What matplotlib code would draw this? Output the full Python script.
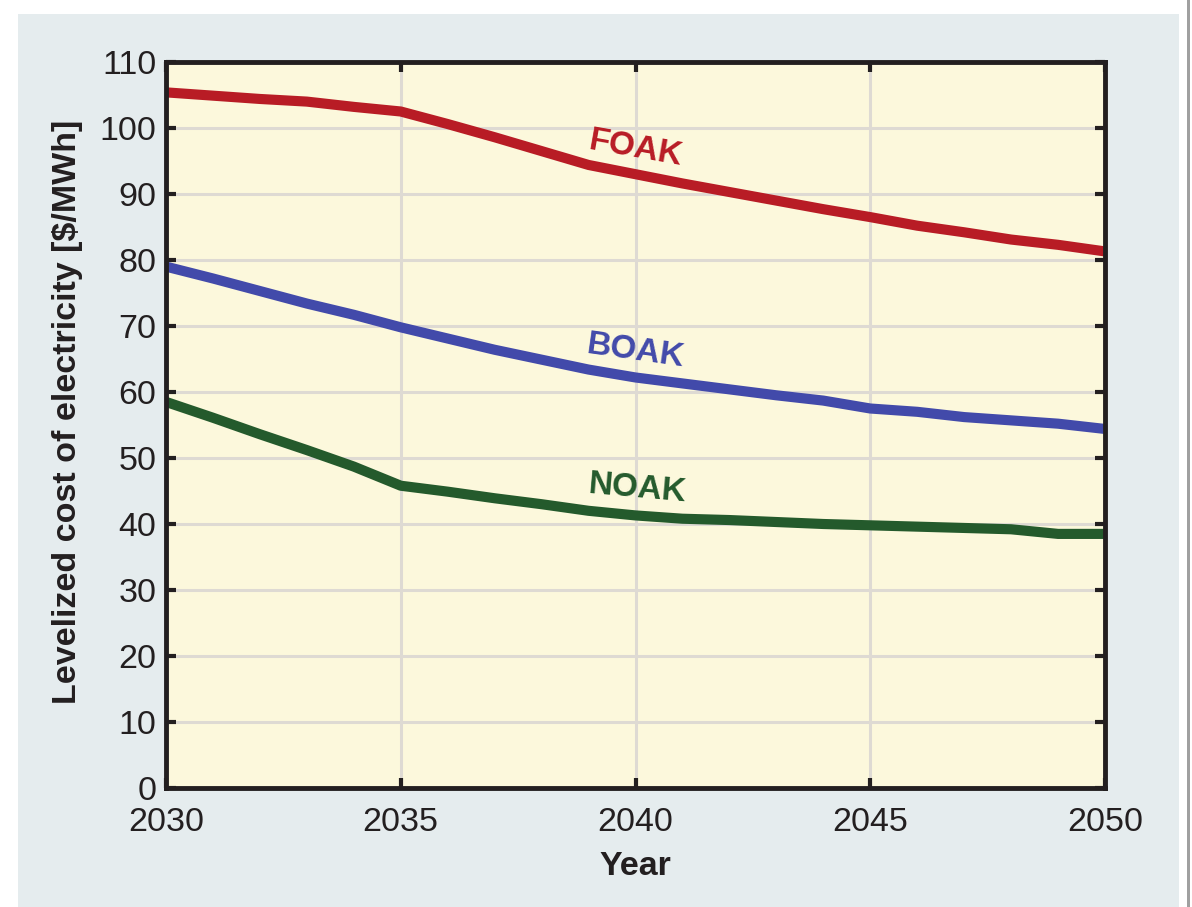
import numpy as np
import matplotlib.pyplot as plt
from matplotlib.patches import Rectangle

# data
years = np.arange(2030, 2051)
foak = [105.4, 104.9, 104.4, 104.0, 103.2, 102.5, 100.6, 98.6, 96.5, 94.4, 93.0,
        91.6, 90.3, 89.0, 87.7, 86.5, 85.2, 84.2, 83.1, 82.3, 81.3]
boak = [79.0, 77.2, 75.3, 73.4, 71.7, 69.8, 68.1, 66.4, 64.9, 63.4, 62.2,
        61.3, 60.4, 59.5, 58.7, 57.5, 57.0, 56.2, 55.7, 55.2, 54.4]
noak = [58.5, 56.1, 53.6, 51.2, 48.7, 45.8, 44.9, 43.9, 43.0, 42.0, 41.3,
        40.8, 40.6, 40.3, 40.0, 39.8, 39.6, 39.4, 39.2, 38.5, 38.5]
xticks = [2030, 2035, 2040, 2045, 2050]
yticks = list(range(0, 111, 10))

plt.rcParams['font.family'] = ['Liberation Sans', 'DejaVu Sans']

fig = plt.figure(figsize=(11.92, 9.07), dpi=100, facecolor='white')
# light panel behind the chart
fig.add_artist(Rectangle((18/1192, 0), (1179-18)/1192, 1-14/907,
                         transform=fig.transFigure, facecolor='#e5ecee',
                         edgecolor='none', zorder=-2))
fig.add_artist(Rectangle((1187/1192, 0), 3/1192, 1,
                         transform=fig.transFigure, facecolor='#a0a0a0',
                         edgecolor='none', zorder=-2))

ax = fig.add_axes([166/1192, 1-788/907, (1105-166)/1192, (788-62)/907])
ax.set_zorder(1)
ax.set_facecolor('#fcf8dc')

ax.plot(years, foak, color='#b81c25', lw=7.3, solid_capstyle='butt', zorder=3)
ax.plot(years, boak, color='#424aaa', lw=7.3, solid_capstyle='butt', zorder=3)
ax.plot(years, noak, color='#245a2c', lw=7.3, solid_capstyle='butt', zorder=3)

ax.text(2040.0, 96.9, 'FOAK', color='#b81c25', fontsize=24, fontweight='bold',
        ha='center', va='center', rotation=-10, zorder=4)
ax.text(2040.0, 66.2, 'BOAK', color='#424aaa', fontsize=24, fontweight='bold',
        ha='center', va='center', rotation=-8, zorder=4)
ax.text(2040.05, 45.4, 'NOAK', color='#245a2c', fontsize=24, fontweight='bold',
        ha='center', va='center', rotation=-5, zorder=4)

ax.set_xlim(2030, 2050)
ax.set_ylim(0, 110)
ax.set_xticks(xticks)
ax.set_yticks(yticks)
ax.grid(True, color='#dedad3', lw=2.2, zorder=1)
ax.set_axisbelow(True)

for s in ax.spines.values():
    s.set_linewidth(3.5)
    s.set_color('#231f20')
    s.set_zorder(5)
ax.tick_params(direction='in', length=7, width=3, color='#231f20',
               top=True, right=True, labelsize=24.5, labelcolor='#231f20', pad=7)
ax.tick_params(axis='x', pad=14)

ax.set_xlabel('Year', fontsize=24.5, fontweight='bold', color='#231f20', labelpad=9)
ax.set_ylabel('Levelized cost of electricity [$/MWh]', fontsize=24.5,
              fontweight='bold', color='#231f20')
ax.yaxis.set_label_coords(-0.088, 0.518)

fig.savefig('out.png', dpi=100, facecolor=fig.get_facecolor())
